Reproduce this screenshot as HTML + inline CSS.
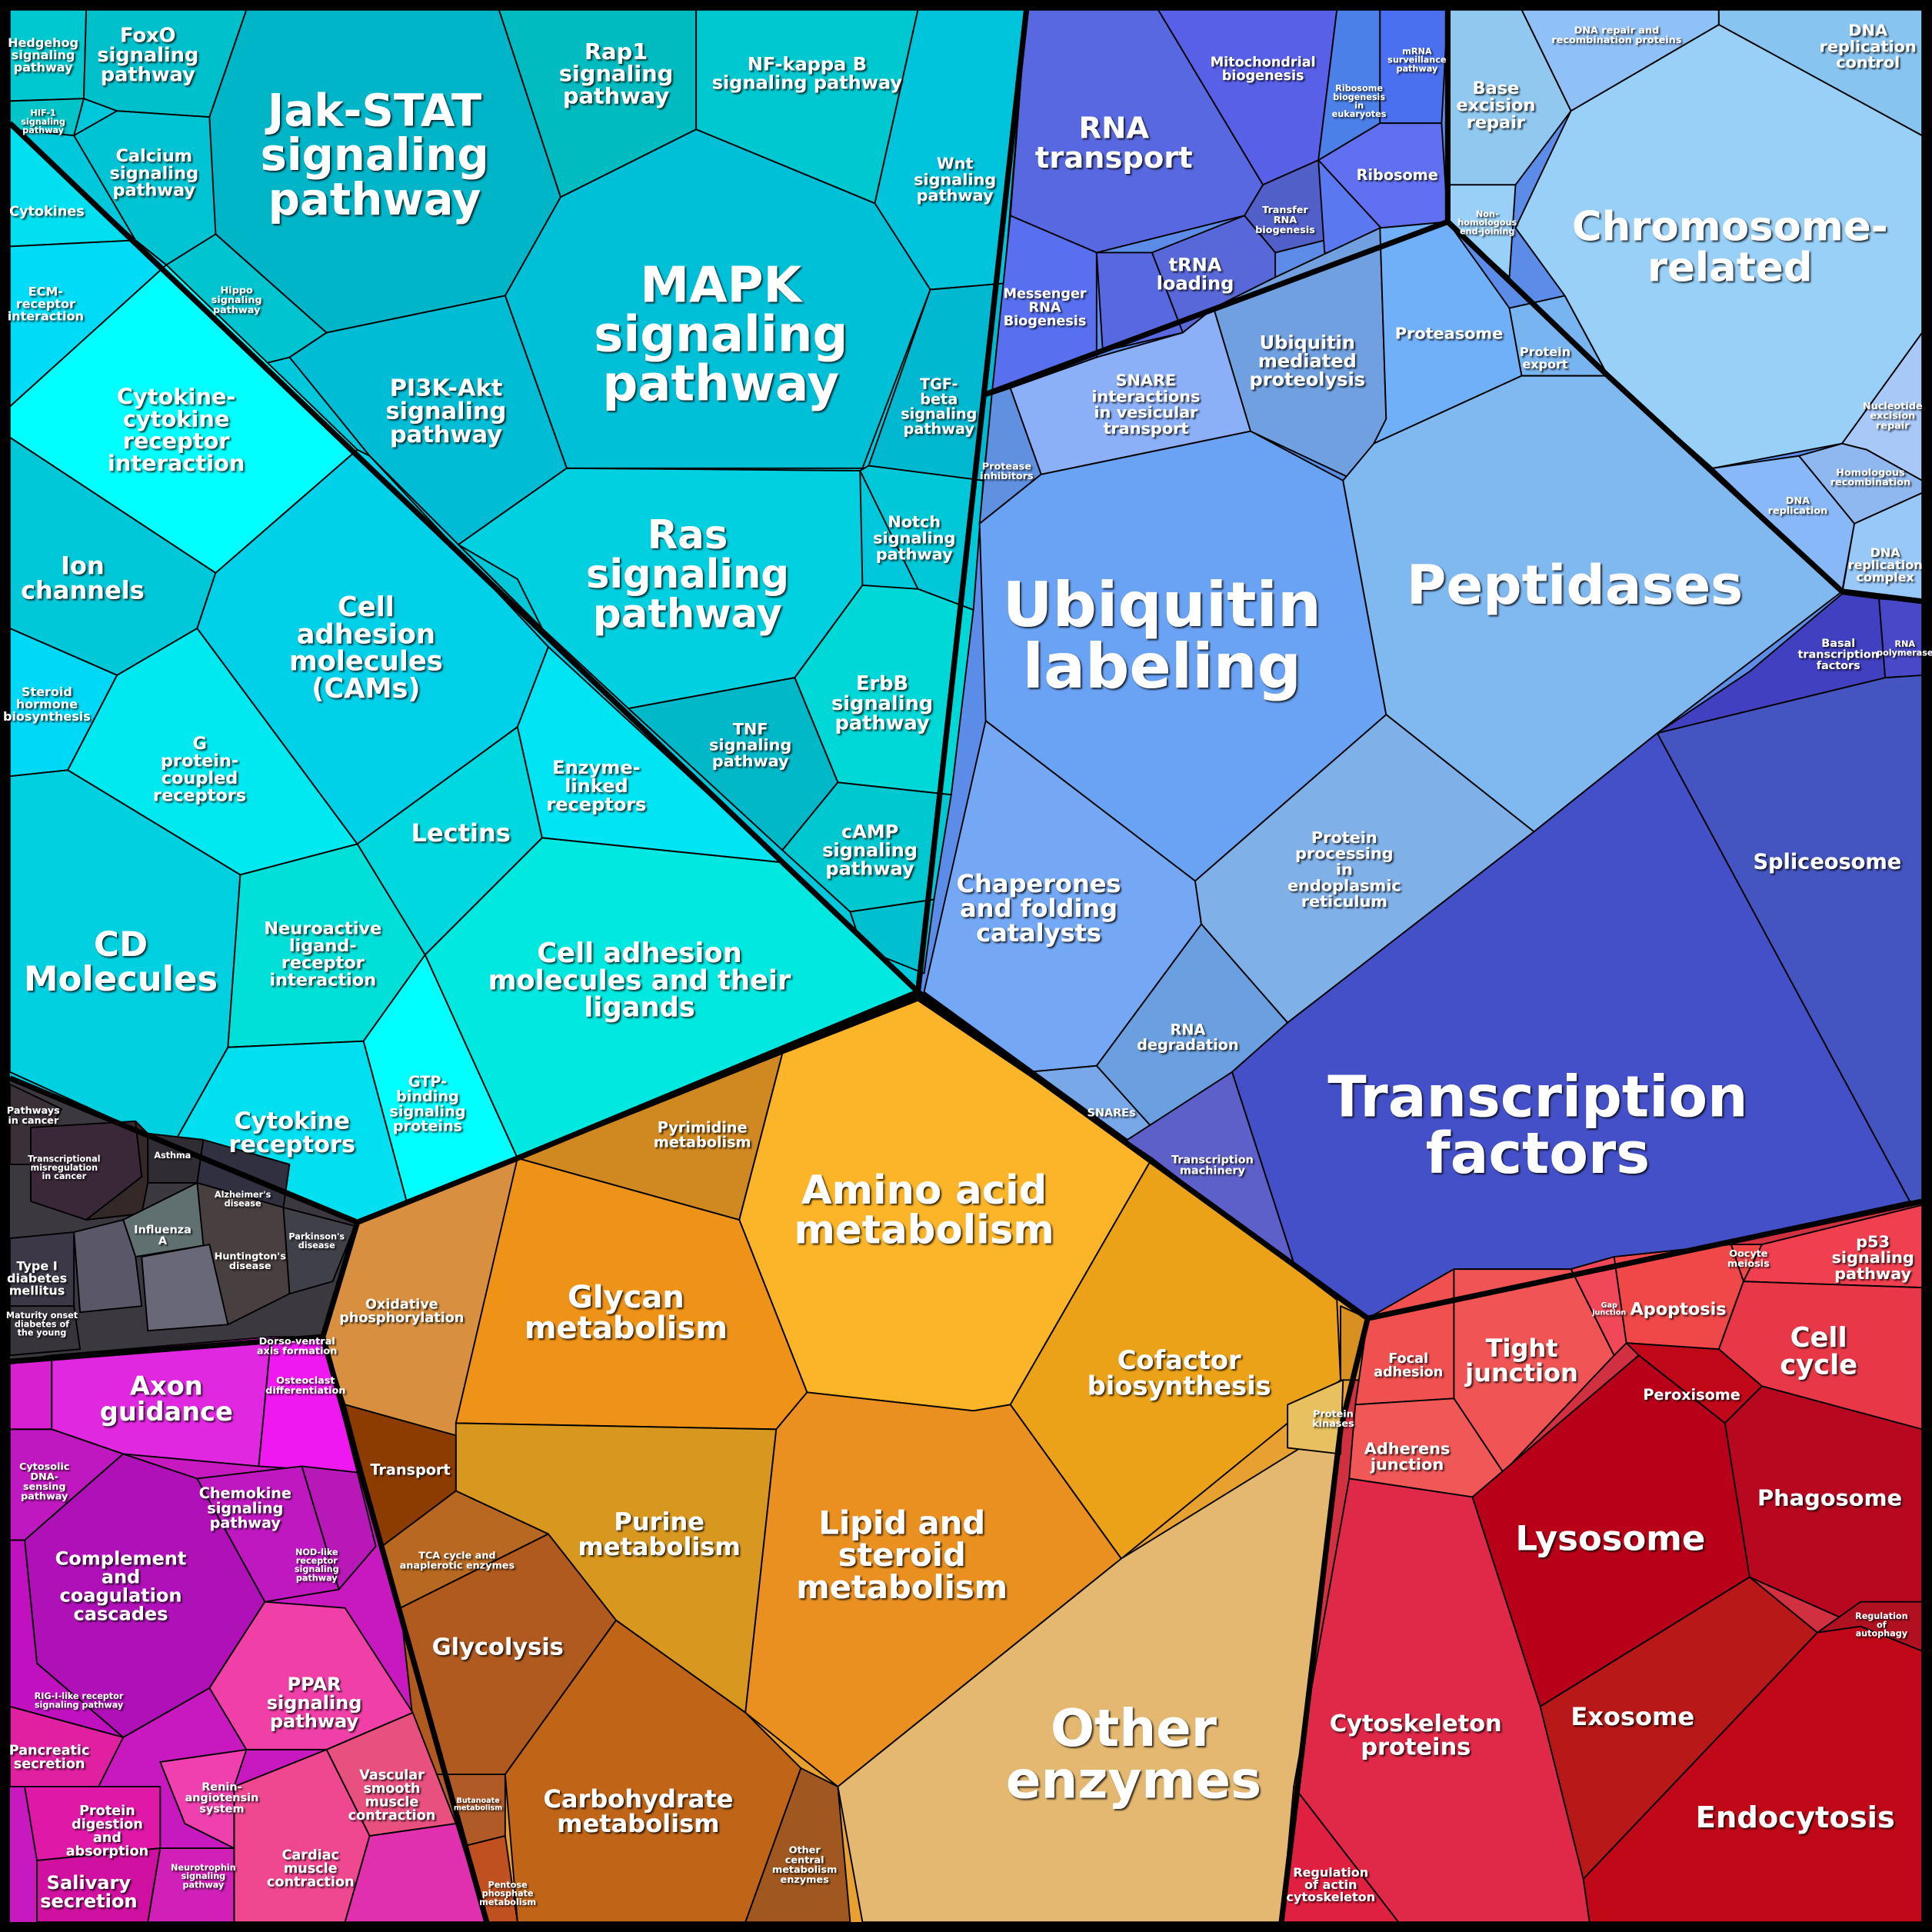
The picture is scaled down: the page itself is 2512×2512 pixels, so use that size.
<!DOCTYPE html>
<html><head><meta charset="utf-8"><style>
html,body{margin:0;padding:0;background:#000}
svg{display:block}
text{font-family:"DejaVu Sans","Liberation Sans",sans-serif;font-weight:bold;fill:#fff;text-anchor:middle;filter:url(#sh)}
.c{stroke:#000;stroke-width:1.2;stroke-linejoin:round}
.g{fill:none;stroke:#000;stroke-width:4.5;stroke-linejoin:round}
</style></head><body>
<svg width="2512" height="2512" viewBox="0 0 1568 1568" xmlns="http://www.w3.org/2000/svg">
<defs><filter id="sh" x="-10%" y="-10%" width="120%" height="120%"><feDropShadow dx="1.2" dy="1.2" stdDeviation="0.6" flood-color="#000" flood-opacity="0.8"/></filter></defs>
<rect width="1568" height="1568" fill="#000"/>
<polygon fill="#00c8dc" points="8,8 833,8 745,805 420,940 290,992 8,875"/>
<polygon fill="#5a8ce8" points="833,8 1560,8 1560,975 1110,1070 745,805"/>
<polygon fill="#e8a030" points="290,992 745,812 1110,1070 1088,1160 1040,1560 395,1560 262,1085"/>
<polygon fill="#d03040" points="1110,1070 1560,975 1560,1560 1040,1560 1088,1160"/>
<polygon fill="#c818c0" points="8,1105 262,1085 395,1560 8,1560"/>
<polygon fill="#3c3840" points="8,875 290,992 262,1085 8,1105"/>

<g class="c">
<polygon fill="#00c8d0" points="8,8 70,8 68,80 8,82"/>
<polygon fill="#00c4c8" points="8,82 68,80 60,110 8,105"/>
<polygon fill="#00c0cc" points="70,8 200,8 170,95 95,90 68,80"/>
<polygon fill="#00c4d4" points="60,110 95,90 170,95 180,190 135,215 110,195"/>
<polygon fill="#00b5c8" points="200,8 405,8 455,160 410,240 265,270 175,190 170,95"/>
<polygon fill="#00bcc0" points="405,8 565,8 565,105 455,160"/>
<polygon fill="#00c8d0" points="565,8 745,8 710,165 565,105"/>
<polygon fill="#00c4dc" points="745,8 833,8 815,230 755,235 710,165"/>
<polygon fill="#00c0d8" points="455,160 565,105 710,165 755,235 700,380 460,380 410,240"/>
<polygon fill="#00c4d0" points="135,215 175,190 265,270 235,290 195,300"/>
<polygon fill="#00bcd4" points="235,290 265,270 410,240 460,380 372,442 300,370"/>
<polygon fill="#00b8d0" points="755,235 815,230 798,390 705,378"/>
<polygon fill="#00c8d8" points="705,378 798,390 790,495 745,478 698,382"/>
<polygon fill="#00d0e0" points="460,380 698,382 700,475 645,550 510,575 440,510 372,442"/>
<polygon fill="#00d8d8" points="700,475 745,478 790,495 772,645 680,635 645,550"/>
<polygon fill="#00b8c8" points="510,575 645,550 680,635 635,690"/>
<polygon fill="#00c8d0" points="635,690 680,635 772,645 758,730 690,740"/>
<polygon fill="#00c0d0" points="690,740 758,730 750,790 700,770"/>
<polygon fill="#00e0f0" points="8,100 110,195 8,200"/>
<polygon fill="#00dcf8" points="8,200 110,195 135,215 8,330"/>
<polygon fill="#00ffff" points="8,330 135,215 290,365 175,465 8,355"/>
<polygon fill="#00c8d8" points="8,355 175,465 160,510 95,548 8,510"/>
<polygon fill="#00d0e8" points="175,465 290,365 300,370 445,525 420,590 290,685 160,510"/>
<polygon fill="#00d8f8" points="8,510 95,548 55,625 8,630"/>
<polygon fill="#00e8f0" points="95,548 160,510 290,685 195,710 55,625"/>
<polygon fill="#00d0e0" points="8,630 55,625 195,710 185,850 140,930 8,870"/>
<polygon fill="#00d8e0" points="290,685 420,590 440,680 345,775"/>
<polygon fill="#00e4f4" points="420,590 445,525 635,700 440,680"/>
<polygon fill="#00e0d8" points="195,710 290,685 345,775 295,845 185,850"/>
<polygon fill="#00e8e0" points="345,775 440,680 635,700 745,805 420,940"/>
<polygon fill="#00ffff" points="295,845 345,775 420,940 330,975"/>
<polygon fill="#00e0f0" points="140,930 185,850 295,845 330,975 290,992"/>
<polygon fill="#00c8d8" points="372,442 440,510 420,470"/>
</g>
<g class="c">
<polygon fill="#5868e0" points="833,8 940,8 1025,150 1010,175 890,205 820,175"/>
<polygon fill="#5860e8" points="940,8 1085,8 1070,130 1025,150"/>
<polygon fill="#4a80e8" points="1085,8 1120,8 1120,100 1070,130"/>
<polygon fill="#4a70f0" points="1120,8 1175,8 1170,100 1120,100"/>
<polygon fill="#6070f0" points="1070,130 1120,100 1170,100 1175,180 1130,195"/>
<polygon fill="#5060c8" points="1010,175 1025,150 1070,130 1075,195 1035,205"/>
<polygon fill="#5a78f0" points="1070,130 1130,195 1120,210 1075,205"/>
<polygon fill="#5870f0" points="820,175 890,205 890,290 805,320"/>
<polygon fill="#5868e0" points="890,205 935,205 960,270 895,285"/>
<polygon fill="#5868d8" points="935,205 1010,175 1035,205 1035,225 985,250 960,270"/>
<polygon fill="#8cb0f8" points="820,315 890,290 960,270 985,250 1015,350 845,385"/>
<polygon fill="#70a0e0" points="985,250 1035,225 1120,185 1125,340 1100,390 1015,350"/>
<polygon fill="#70b0f8" points="1120,185 1175,180 1225,250 1235,305 1115,360 1125,340"/>
<polygon fill="#78b4f0" points="1225,250 1270,240 1305,305 1235,305"/>
<polygon fill="#6090e0" points="805,320 820,315 845,385 795,425"/>
<polygon fill="#6aa2f4" points="795,425 845,385 1015,350 1090,390 1125,580 970,715 800,585"/>
<polygon fill="#80b8f0" points="1090,390 1115,360 1235,305 1305,305 1390,380 1495,480 1345,595 1245,675 1125,580"/>
<polygon fill="#74a8f4" points="800,585 970,715 975,750 890,865 835,870 750,805"/>
<polygon fill="#80b0e8" points="970,715 1125,580 1245,675 1045,830 975,750"/>
<polygon fill="#6aa0e0" points="890,865 975,750 1045,830 1000,870 935,915"/>
<polygon fill="#78a8e8" points="835,870 890,865 935,915 915,925"/>
<polygon fill="#5c60c8" points="915,925 1000,870 1050,1025 1080,1055 750,805"/>
<polygon fill="#4450c8" points="1000,870 1045,830 1245,675 1345,595 1550,975 1110,1070 1050,1025"/>
<polygon fill="#4454c0" points="1345,595 1530,550 1560,548 1560,975 1550,975"/>
<polygon fill="#4040c0" points="1420,545 1495,482 1525,486 1530,550 1345,595"/>
<polygon fill="#4848c8" points="1525,486 1560,488 1560,548 1530,550"/>
<polygon fill="#98d0f8" points="1230,185 1275,90 1395,20 1560,110 1560,270 1495,360 1390,380 1305,305 1270,240"/>
<polygon fill="#90c8f0" points="1175,8 1235,8 1275,90 1230,150 1175,150"/>
<polygon fill="#98d0f8" points="1175,150 1230,150 1225,225 1175,180"/>
<polygon fill="#90c0f8" points="1235,8 1395,8 1395,20 1275,90"/>
<polygon fill="#88c4f0" points="1395,8 1560,8 1560,110 1395,20"/>
<polygon fill="#a8c8f8" points="1495,360 1560,270 1560,390 1515,365"/>
<polygon fill="#90b8f0" points="1460,370 1495,360 1515,365 1560,390 1560,400 1505,425"/>
<polygon fill="#88b8f8" points="1390,380 1460,370 1505,425 1495,480"/>
<polygon fill="#98c8f8" points="1505,425 1560,400 1560,488 1495,482"/>
</g>
<g class="c">
<polygon fill="#d89040" points="290,992 420,940 370,1165 280,1140 262,1085"/>
<polygon fill="#d08820" points="420,940 460,925 635,855 600,990"/>
<polygon fill="#fcb428" points="600,990 635,855 745,812 935,940 820,1140 790,1145 655,1130"/>
<polygon fill="#ee9218" points="420,940 600,990 655,1130 630,1160 370,1155"/>
<polygon fill="#eca218" points="820,1140 935,940 1085,1055 1088,1120 910,1265"/>
<polygon fill="#d89820" points="370,1155 630,1160 605,1390 500,1315 445,1245 370,1210"/>
<polygon fill="#ea9020" points="630,1160 655,1130 790,1145 820,1140 910,1265 680,1450 605,1390"/>
<polygon fill="#e4b870" points="910,1265 1088,1155 1040,1560 700,1560 680,1450"/>
<polygon fill="#8c3c00" points="280,1140 370,1165 370,1210 310,1255"/>
<polygon fill="#b86820" points="310,1255 370,1210 445,1245 325,1305"/>
<polygon fill="#b05a20" points="325,1305 445,1245 500,1315 410,1440 340,1440"/>
<polygon fill="#c06418" points="410,1440 500,1315 605,1390 650,1435 605,1560 420,1560"/>
<polygon fill="#a05820" points="605,1560 650,1435 680,1450 690,1560"/>
<polygon fill="#b05a28" points="340,1440 410,1440 410,1490 370,1500"/>
<polygon fill="#c05020" points="370,1500 410,1490 420,1560 395,1560"/>
<polygon fill="#e8c060" points="1045,1140 1090,1120 1088,1180 1045,1175"/>
<polygon fill="#d89020" points="1088,1060 1110,1070 1105,1120 1088,1120"/>
</g>
<g class="c">
<polygon fill="#f05050" points="1110,1070 1180,1030 1180,1135 1100,1140"/>
<polygon fill="#f05454" points="1180,1030 1275,1030 1310,1100 1220,1195 1180,1135"/>
<polygon fill="#f04858" points="1275,1030 1310,1020 1320,1090 1310,1100"/>
<polygon fill="#f04848" points="1310,1020 1405,1010 1415,1040 1395,1095 1320,1090"/>
<polygon fill="#f04848" points="1405,1010 1430,1010 1415,1040"/>
<polygon fill="#f04050" points="1430,1010 1560,978 1560,1045 1415,1040"/>
<polygon fill="#e83848" points="1395,1095 1415,1040 1560,1045 1560,1160 1430,1125"/>
<polygon fill="#f05858" points="1100,1140 1180,1135 1220,1195 1195,1215 1095,1200"/>
<polygon fill="#c00818" points="1320,1090 1395,1095 1430,1125 1400,1155 1330,1100"/>
<polygon fill="#b80018" points="1195,1215 1330,1100 1400,1155 1420,1280 1250,1385"/>
<polygon fill="#b80820" points="1400,1155 1430,1125 1560,1160 1560,1300 1510,1320 1420,1280"/>
<polygon fill="#b01020" points="1475,1325 1510,1300 1560,1300 1560,1340 1510,1320"/>
<polygon fill="#b81818" points="1250,1385 1420,1280 1475,1325 1285,1525"/>
<polygon fill="#c00818" points="1285,1525 1475,1325 1510,1320 1560,1340 1560,1560 1290,1560"/>
<polygon fill="#e02848" points="1095,1200 1195,1215 1250,1385 1285,1525 1290,1560 1135,1560 1050,1450"/>
<polygon fill="#e02040" points="1050,1450 1135,1560 1040,1560"/>
</g>
<g class="c">
<polygon fill="#d820d0" points="8,1105 42,1100 42,1160 8,1160"/>
<polygon fill="#e028e0" points="42,1100 220,1085 210,1190 100,1180 42,1160"/>
<polygon fill="#f018f0" points="220,1085 262,1085 290,1195 210,1190"/>
<polygon fill="#c018c0" points="8,1160 42,1160 100,1180 20,1250 8,1250"/>
<polygon fill="#b010b8" points="20,1250 100,1180 160,1200 215,1300 170,1370 100,1410 30,1350"/>
<polygon fill="#c018c0" points="160,1200 245,1190 275,1290 215,1300"/>
<polygon fill="#b818b8" points="245,1190 290,1195 305,1255 275,1290"/>
<polygon fill="#f040a8" points="170,1370 215,1300 280,1305 335,1390 265,1420 200,1420"/>
<polygon fill="#e85080" points="265,1420 335,1390 370,1480 300,1490"/>
<polygon fill="#f04890" points="190,1450 265,1420 300,1490 280,1560 190,1560"/>
<polygon fill="#f040b0" points="130,1430 200,1420 190,1450 190,1500 150,1480"/>
<polygon fill="#c010c0" points="8,1250 20,1250 30,1350 100,1410 8,1385"/>
<polygon fill="#e020a0" points="8,1385 100,1410 80,1450 8,1450"/>
<polygon fill="#e018a8" points="20,1450 80,1450 130,1450 130,1500 30,1510"/>
<polygon fill="#d010a0" points="30,1510 130,1500 120,1560 30,1560"/>
<polygon fill="#d020b8" points="130,1500 190,1500 190,1560 120,1560"/>
<polygon fill="#e030b0" points="280,1560 300,1490 370,1480 395,1560"/>
</g>
<g class="c">
<polygon fill="#3a3038" points="8,880 50,900 25,945 8,945"/>
<polygon fill="#3a2838" points="25,915 110,910 115,955 70,990 25,975"/>
<polygon fill="#342828" points="110,910 120,920 120,960 115,985 70,990 115,955"/>
<polygon fill="#302c34" points="120,920 165,925 160,960 120,960"/>
<polygon fill="#303040" points="165,925 235,945 230,980 160,960"/>
<polygon fill="#607070" points="100,990 160,960 170,1010 110,1020"/>
<polygon fill="#484040" points="160,960 230,980 235,1050 185,1075 165,1010"/>
<polygon fill="#404048" points="230,980 288,995 270,1040 235,1050"/>
<polygon fill="#3c3848" points="8,1005 60,1000 60,1060 8,1060"/>
<polygon fill="#38343c" points="8,1060 60,1060 65,1095 8,1100"/>
<polygon fill="#5a5868" points="60,1000 100,990 110,1020 115,1060 65,1065"/>
<polygon fill="#686878" points="115,1020 170,1010 185,1075 120,1080"/>
</g>
<polyline class="g" points="8,875 290,992 420,940 745,805 833,8"/>
<polyline class="g" points="8,100 745,805"/>
<polyline class="g" points="745,805 1110,1070 1560,975"/>
<polyline class="g" points="1110,1070 1088,1160 1040,1560"/>
<polyline class="g" points="290,992 262,1085 395,1560"/>
<polyline class="g" points="8,1105 262,1085"/>
<polyline class="g" points="1175,8 1175,180 1305,305 1495,480 1560,488"/>
<polyline class="g" points="800,320 1175,180"/>
<rect x="4" y="4" width="1560" height="1560" fill="none" stroke="#000" stroke-width="8"/>

<text font-size="10" x="35" y="38">Hedgehog<tspan x="35" dy="1em">signaling</tspan><tspan x="35" dy="1em">pathway</tspan></text>
<text font-size="7" x="35" y="94">HIF-1<tspan x="35" dy="1em">signaling</tspan><tspan x="35" dy="1em">pathway</tspan></text>
<text font-size="16" x="120" y="34">FoxO<tspan x="120" dy="1em">signaling</tspan><tspan x="120" dy="1em">pathway</tspan></text>
<text font-size="14" x="125" y="131">Calcium<tspan x="125" dy="1em">signaling</tspan><tspan x="125" dy="1em">pathway</tspan></text>
<text font-size="36" x="304" y="102">Jak-STAT<tspan x="304" dy="1em">signaling</tspan><tspan x="304" dy="1em">pathway</tspan></text>
<text font-size="18" x="500" y="48">Rap1<tspan x="500" dy="1em">signaling</tspan><tspan x="500" dy="1em">pathway</tspan></text>
<text font-size="15" x="655" y="57">NF-kappa B<tspan x="655" dy="1em">signaling pathway</tspan></text>
<text font-size="13" x="775" y="137">Wnt<tspan x="775" dy="1em">signaling</tspan><tspan x="775" dy="1em">pathway</tspan></text>
<text font-size="40" x="585" y="245">MAPK<tspan x="585" dy="1em">signaling</tspan><tspan x="585" dy="1em">pathway</tspan></text>
<text font-size="8" x="192" y="238">Hippo<tspan x="192" dy="1em">signaling</tspan><tspan x="192" dy="1em">pathway</tspan></text>
<text font-size="19" x="362" y="321">PI3K-Akt<tspan x="362" dy="1em">signaling</tspan><tspan x="362" dy="1em">pathway</tspan></text>
<text font-size="12" x="762" y="316">TGF-<tspan x="762" dy="1em">beta</tspan><tspan x="762" dy="1em">signaling</tspan><tspan x="762" dy="1em">pathway</tspan></text>
<text font-size="13" x="742" y="428">Notch<tspan x="742" dy="1em">signaling</tspan><tspan x="742" dy="1em">pathway</tspan></text>
<text font-size="32" x="558" y="445">Ras<tspan x="558" dy="1em">signaling</tspan><tspan x="558" dy="1em">pathway</tspan></text>
<text font-size="16" x="716" y="560">ErbB<tspan x="716" dy="1em">signaling</tspan><tspan x="716" dy="1em">pathway</tspan></text>
<text font-size="13" x="609" y="596">TNF<tspan x="609" dy="1em">signaling</tspan><tspan x="609" dy="1em">pathway</tspan></text>
<text font-size="15" x="706" y="680">cAMP<tspan x="706" dy="1em">signaling</tspan><tspan x="706" dy="1em">pathway</tspan></text>
<text font-size="11" x="38" y="175">Cytokines</text>
<text font-size="10" x="37" y="240">ECM-<tspan x="37" dy="1em">receptor</tspan><tspan x="37" dy="1em">interaction</tspan></text>
<text font-size="18" x="143" y="328">Cytokine-<tspan x="143" dy="1em">cytokine</tspan><tspan x="143" dy="1em">receptor</tspan><tspan x="143" dy="1em">interaction</tspan></text>
<text font-size="20" x="67" y="466">Ion<tspan x="67" dy="1em">channels</tspan></text>
<text font-size="22" x="297" y="500">Cell<tspan x="297" dy="1em">adhesion</tspan><tspan x="297" dy="1em">molecules</tspan><tspan x="297" dy="1em">(CAMs)</tspan></text>
<text font-size="10" x="38" y="565">Steroid<tspan x="38" dy="1em">hormone</tspan><tspan x="38" dy="1em">biosynthesis</tspan></text>
<text font-size="14" x="162" y="608">G<tspan x="162" dy="1em">protein-</tspan><tspan x="162" dy="1em">coupled</tspan><tspan x="162" dy="1em">receptors</tspan></text>
<text font-size="28" x="98" y="776">CD<tspan x="98" dy="1em">Molecules</tspan></text>
<text font-size="20" x="374" y="683">Lectins</text>
<text font-size="15" x="484" y="628">Enzyme-<tspan x="484" dy="1em">linked</tspan><tspan x="484" dy="1em">receptors</tspan></text>
<text font-size="14" x="262" y="758">Neuroactive<tspan x="262" dy="1em">ligand-</tspan><tspan x="262" dy="1em">receptor</tspan><tspan x="262" dy="1em">interaction</tspan></text>
<text font-size="22" x="519" y="781">Cell adhesion<tspan x="519" dy="1em">molecules and their</tspan><tspan x="519" dy="1em">ligands</tspan></text>
<text font-size="12" x="347" y="882">GTP-<tspan x="347" dy="1em">binding</tspan><tspan x="347" dy="1em">signaling</tspan><tspan x="347" dy="1em">proteins</tspan></text>
<text font-size="19" x="237" y="916">Cytokine<tspan x="237" dy="1em">receptors</tspan></text>
<text font-size="24" x="904" y="112">RNA<tspan x="904" dy="1em">transport</tspan></text>
<text font-size="11" x="1025" y="54">Mitochondrial<tspan x="1025" dy="1em">biogenesis</tspan></text>
<text font-size="7" x="1103" y="74">Ribosome<tspan x="1103" dy="1em">biogenesis</tspan><tspan x="1103" dy="1em">in</tspan><tspan x="1103" dy="1em">eukaryotes</tspan></text>
<text font-size="7" x="1150" y="44">mRNA<tspan x="1150" dy="1em">surveillance</tspan><tspan x="1150" dy="1em">pathway</tspan></text>
<text font-size="12" x="1134" y="146">Ribosome</text>
<text font-size="8" x="1043" y="173">Transfer<tspan x="1043" dy="1em">RNA</tspan><tspan x="1043" dy="1em">biogenesis</tspan></text>
<text font-size="11" x="848" y="242">Messenger<tspan x="848" dy="1em">RNA</tspan><tspan x="848" dy="1em">Biogenesis</tspan></text>
<text font-size="15" x="970" y="220">tRNA<tspan x="970" dy="1em">loading</tspan></text>
<text font-size="13" x="930" y="313">SNARE<tspan x="930" dy="1em">interactions</tspan><tspan x="930" dy="1em">in vesicular</tspan><tspan x="930" dy="1em">transport</tspan></text>
<text font-size="15" x="1061" y="283">Ubiquitin<tspan x="1061" dy="1em">mediated</tspan><tspan x="1061" dy="1em">proteolysis</tspan></text>
<text font-size="13" x="1176" y="275">Proteasome</text>
<text font-size="10" x="1254" y="289">Protein<tspan x="1254" dy="1em">export</tspan></text>
<text font-size="8" x="817" y="381">Protease<tspan x="817" dy="1em">inhibitors</tspan></text>
<text font-size="50" x="943" y="508">Ubiquitin<tspan x="943" dy="1em">labeling</tspan></text>
<text font-size="44" x="1278" y="490">Peptidases</text>
<text font-size="20" x="843" y="724">Chaperones<tspan x="843" dy="1em">and folding</tspan><tspan x="843" dy="1em">catalysts</tspan></text>
<text font-size="13" x="1091" y="684">Protein<tspan x="1091" dy="1em">processing</tspan><tspan x="1091" dy="1em">in</tspan><tspan x="1091" dy="1em">endoplasmic</tspan><tspan x="1091" dy="1em">reticulum</tspan></text>
<text font-size="12" x="964" y="840">RNA<tspan x="964" dy="1em">degradation</tspan></text>
<text font-size="9" x="902" y="906">SNAREs</text>
<text font-size="9" x="984" y="944">Transcription<tspan x="984" dy="1em">machinery</tspan></text>
<text font-size="46" x="1248" y="906">Transcription<tspan x="1248" dy="1em">factors</tspan></text>
<text font-size="17" x="1483" y="705">Spliceosome</text>
<text font-size="9" x="1492" y="525">Basal<tspan x="1492" dy="1em">transcription</tspan><tspan x="1492" dy="1em">factors</tspan></text>
<text font-size="7" x="1546" y="525">RNA<tspan x="1546" dy="1em">polymerase</tspan></text>
<text font-size="33" x="1404" y="195">Chromosome-<tspan x="1404" dy="1em">related</tspan></text>
<text font-size="14" x="1214" y="76">Base<tspan x="1214" dy="1em">excision</tspan><tspan x="1214" dy="1em">repair</tspan></text>
<text font-size="8" x="1312" y="27">DNA repair and<tspan x="1312" dy="1em">recombination proteins</tspan></text>
<text font-size="13" x="1516" y="29">DNA<tspan x="1516" dy="1em">replication</tspan><tspan x="1516" dy="1em">control</tspan></text>
<text font-size="7" x="1207" y="176">Non-<tspan x="1207" dy="1em">homologous</tspan><tspan x="1207" dy="1em">end-joining</tspan></text>
<text font-size="8" x="1536" y="332">Nucleotide<tspan x="1536" dy="1em">excision</tspan><tspan x="1536" dy="1em">repair</tspan></text>
<text font-size="8" x="1518" y="386">Homologous<tspan x="1518" dy="1em">recombination</tspan></text>
<text font-size="8" x="1459" y="409">DNA<tspan x="1459" dy="1em">replication</tspan></text>
<text font-size="10" x="1530" y="452">DNA<tspan x="1530" dy="1em">replication</tspan><tspan x="1530" dy="1em">complex</tspan></text>
<text font-size="11" x="326" y="1062">Oxidative<tspan x="326" dy="1em">phosphorylation</tspan></text>
<text font-size="12" x="570" y="919">Pyrimidine<tspan x="570" dy="1em">metabolism</tspan></text>
<text font-size="32" x="750" y="977">Amino acid<tspan x="750" dy="1em">metabolism</tspan></text>
<text font-size="25" x="508" y="1061">Glycan<tspan x="508" dy="1em">metabolism</tspan></text>
<text font-size="21" x="957" y="1111">Cofactor<tspan x="957" dy="1em">biosynthesis</tspan></text>
<text font-size="20" x="535" y="1242">Purine<tspan x="535" dy="1em">metabolism</tspan></text>
<text font-size="26" x="732" y="1245">Lipid and<tspan x="732" dy="1em">steroid</tspan><tspan x="732" dy="1em">metabolism</tspan></text>
<text font-size="42" x="920" y="1417">Other<tspan x="920" dy="1em">enzymes</tspan></text>
<text font-size="12" x="333" y="1197">Transport</text>
<text font-size="8" x="371" y="1265">TCA cycle and<tspan x="371" dy="1em">anaplerotic enzymes</tspan></text>
<text font-size="19" x="404" y="1343">Glycolysis</text>
<text font-size="20" x="518" y="1467">Carbohydrate<tspan x="518" dy="1em">metabolism</tspan></text>
<text font-size="8" x="653" y="1504">Other<tspan x="653" dy="1em">central</tspan><tspan x="653" dy="1em">metabolism</tspan><tspan x="653" dy="1em">enzymes</tspan></text>
<text font-size="6" x="388" y="1463">Butanoate<tspan x="388" dy="1em">metabolism</tspan></text>
<text font-size="7" x="412" y="1532">Pentose<tspan x="412" dy="1em">phosphate</tspan><tspan x="412" dy="1em">metabolism</tspan></text>
<text font-size="8" x="1082" y="1150">Protein<tspan x="1082" dy="1em">kinases</tspan></text>
<text font-size="11" x="1143" y="1106">Focal<tspan x="1143" dy="1em">adhesion</tspan></text>
<text font-size="20" x="1235" y="1101">Tight<tspan x="1235" dy="1em">junction</tspan></text>
<text font-size="6" x="1306" y="1061">Gap<tspan x="1306" dy="1em">junction</tspan></text>
<text font-size="14" x="1362" y="1067">Apoptosis</text>
<text font-size="8" x="1419" y="1020">Oocyte<tspan x="1419" dy="1em">meiosis</tspan></text>
<text font-size="13" x="1520" y="1012">p53<tspan x="1520" dy="1em">signaling</tspan><tspan x="1520" dy="1em">pathway</tspan></text>
<text font-size="22" x="1476" y="1093">Cell<tspan x="1476" dy="1em">cycle</tspan></text>
<text font-size="13" x="1142" y="1180">Adherens<tspan x="1142" dy="1em">junction</tspan></text>
<text font-size="12" x="1373" y="1136">Peroxisome</text>
<text font-size="28" x="1307" y="1258">Lysosome</text>
<text font-size="18" x="1485" y="1222">Phagosome</text>
<text font-size="7" x="1527" y="1314">Regulation<tspan x="1527" dy="1em">of</tspan><tspan x="1527" dy="1em">autophagy</tspan></text>
<text font-size="20" x="1325" y="1400">Exosome</text>
<text font-size="24" x="1457" y="1483">Endocytosis</text>
<text font-size="19" x="1149" y="1405">Cytoskeleton<tspan x="1149" dy="1em">proteins</tspan></text>
<text font-size="10" x="1080" y="1523">Regulation<tspan x="1080" dy="1em">of actin</tspan><tspan x="1080" dy="1em">cytoskeleton</tspan></text>
<text font-size="21" x="135" y="1132">Axon<tspan x="135" dy="1em">guidance</tspan></text>
<text font-size="8" x="248" y="1123">Osteoclast<tspan x="248" dy="1em">differentiation</tspan></text>
<text font-size="8" x="241" y="1091">Dorso-ventral<tspan x="241" dy="1em">axis formation</tspan></text>
<text font-size="8" x="36" y="1193">Cytosolic<tspan x="36" dy="1em">DNA-</tspan><tspan x="36" dy="1em">sensing</tspan><tspan x="36" dy="1em">pathway</tspan></text>
<text font-size="15" x="98" y="1270">Complement<tspan x="98" dy="1em">and</tspan><tspan x="98" dy="1em">coagulation</tspan><tspan x="98" dy="1em">cascades</tspan></text>
<text font-size="12" x="199" y="1216">Chemokine<tspan x="199" dy="1em">signaling</tspan><tspan x="199" dy="1em">pathway</tspan></text>
<text font-size="7" x="257" y="1262">NOD-like<tspan x="257" dy="1em">receptor</tspan><tspan x="257" dy="1em">signaling</tspan><tspan x="257" dy="1em">pathway</tspan></text>
<text font-size="15" x="255" y="1372">PPAR<tspan x="255" dy="1em">signaling</tspan><tspan x="255" dy="1em">pathway</tspan></text>
<text font-size="11" x="318" y="1444">Vascular<tspan x="318" dy="1em">smooth</tspan><tspan x="318" dy="1em">muscle</tspan><tspan x="318" dy="1em">contraction</tspan></text>
<text font-size="11" x="252" y="1509">Cardiac<tspan x="252" dy="1em">muscle</tspan><tspan x="252" dy="1em">contraction</tspan></text>
<text font-size="9" x="180" y="1453">Renin-<tspan x="180" dy="1em">angiotensin</tspan><tspan x="180" dy="1em">system</tspan></text>
<text font-size="11" x="40" y="1424">Pancreatic<tspan x="40" dy="1em">secretion</tspan></text>
<text font-size="11" x="87" y="1473">Protein<tspan x="87" dy="1em">digestion</tspan><tspan x="87" dy="1em">and</tspan><tspan x="87" dy="1em">absorption</tspan></text>
<text font-size="15" x="72" y="1533">Salivary<tspan x="72" dy="1em">secretion</tspan></text>
<text font-size="7" x="165" y="1518">Neurotrophin<tspan x="165" dy="1em">signaling</tspan><tspan x="165" dy="1em">pathway</tspan></text>
<text font-size="7" x="64" y="1379">RIG-I-like receptor<tspan x="64" dy="1em">signaling pathway</tspan></text>
<text font-size="8" x="27" y="904">Pathways<tspan x="27" dy="1em">in cancer</tspan></text>
<text font-size="7" x="52" y="943">Transcriptional<tspan x="52" dy="1em">misregulation</tspan><tspan x="52" dy="1em">in cancer</tspan></text>
<text font-size="7" x="140" y="940">Asthma</text>
<text font-size="7" x="197" y="972">Alzheimer's<tspan x="197" dy="1em">disease</tspan></text>
<text font-size="9" x="132" y="1001">Influenza<tspan x="132" dy="1em">A</tspan></text>
<text font-size="8" x="203" y="1022">Huntington's<tspan x="203" dy="1em">disease</tspan></text>
<text font-size="7" x="257" y="1006">Parkinson's<tspan x="257" dy="1em">disease</tspan></text>
<text font-size="10" x="30" y="1031">Type I<tspan x="30" dy="1em">diabetes</tspan><tspan x="30" dy="1em">mellitus</tspan></text>
<text font-size="7" x="34" y="1070">Maturity onset<tspan x="34" dy="1em">diabetes of</tspan><tspan x="34" dy="1em">the young</tspan></text>
</svg>
</body></html>
